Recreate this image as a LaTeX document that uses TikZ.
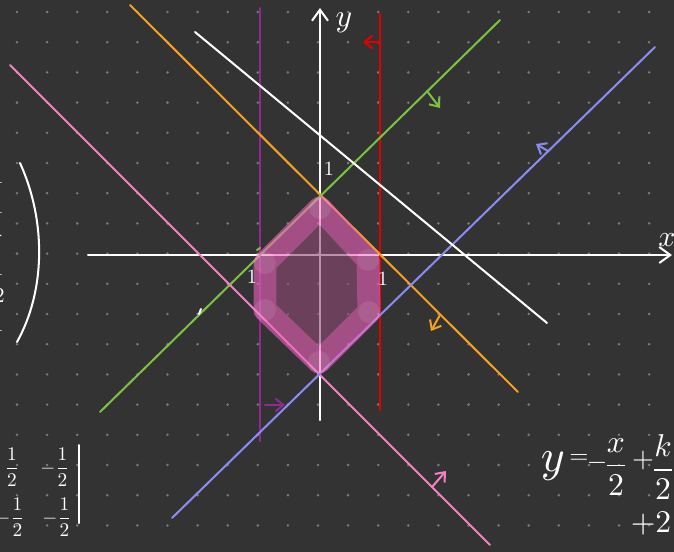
\documentclass[tikz,border=0pt]{standalone}
\usepackage{tikz}
\usetikzlibrary{arrows.meta}
\definecolor{board}{HTML}{333333}
\definecolor{gridgray}{HTML}{7A7A7A}
\definecolor{korange}{HTML}{F5A01E}
\definecolor{kgreen}{HTML}{7CC242}
\definecolor{kpink}{HTML}{F282C6}
\definecolor{kblue}{HTML}{8A8CF4}
\definecolor{kred}{HTML}{E00000}
\definecolor{kpurple}{HTML}{8E2A90}
\definecolor{hexband}{RGB}{238,98,190}
\definecolor{hexinner}{RGB}{143,73,118}
\definecolor{hexspot}{RGB}{248,125,205}
\tikzset{
  pen/.style={line width=1.15pt, line cap=round},
  axis/.style={pen, white, -{Straight Barb[length=2.2mm, width=3.2mm]}},
  hint/.style={pen, -{Straight Barb[length=1.6mm, width=2.6mm]}},
  chalk/.style={text=white, inner sep=0pt},
}

\begin{document}
\begin{tikzpicture}[x=0.02cm, y=-0.02cm]
  \fill[board] (0,0) rectangle (674,552);
  \clip (0,0) rectangle (674,552);
  % dot grid
  \foreach \i in {0,...,22}
    \foreach \j in {0,...,18}
      \fill[gridgray] (17+30.1*\i, 12+30.2*\j) circle (0.8pt);

  % axes
  \draw[axis] (88,255) -- (672,255);
  \draw[axis] (320,420) -- (320,8);

  % the six lines
  \draw[pen, kpurple] (260,8) -- (260,441);
  \draw[pen, kred] (380,14) -- (380,410);
  \draw[pen, korange] (130,5) -- (518,392);
  \draw[pen, kgreen] (100,412) -- (500,20);
  \draw[pen, kpink] (10,65) -- (490,545);
  \draw[pen, kblue] (172,518) -- (655,47);
  \draw[pen, white] (195,32) -- (547,323);

  % side arrows
  \draw[hint, kpurple] (265,405) -- (285,405);
  \draw[hint, kred] (380,42) -- (363,42);
  \draw[hint, korange] (440,315) -- (431,331);
  \draw[hint, kgreen] (427,91) -- (440,108);
  \draw[hint, kblue] (548,151) -- (536,144);
  \draw[hint, kpink] (432,487) -- (446,471);

  % little marks
  \draw[pen, white] (199,314) -- (201,309);
  \draw[pen, kgreen] (257,250) -- (260,248);

  % feasible region
  \begin{scope}[transparency group, opacity=0.6]
    \filldraw[hexband, fill=hexinner, line width=0.46cm, line join=round]
      (320,208) -- (368,260) -- (369,312) -- (319,362) -- (265,310) -- (265,263) -- cycle;
    \foreach \p in {(320,208),(368,260),(369,312),(319,362),(265,310),(265,263)}
      \fill[hexspot] \p circle (0.22cm);
  \end{scope}

  % axis labels
  \node[chalk, scale=1.8] (ylabel) at (344,23) {$y$};
  \node[chalk, scale=1.7] (xlabel) at (667,240) {$x$};
  \node[chalk, scale=1.15] (onetop) at (329,169) {1};
  \node[chalk, scale=1.15] (oneleft) at (252,277) {1};
  \node[chalk, scale=1.15] (oneright) at (383,279) {1};

  % bracket on the left
  \draw[pen, white] (20,163) .. controls (46,220) and (46,290) .. (17,342);
  \node[chalk, scale=1.2, anchor=east] (cutA) at (4,176) {1};
  \node[chalk, scale=1.2, anchor=east] (cutB) at (4,206) {1};
  \node[chalk, scale=1.2, anchor=east] (cutC) at (3,238) {-};
  \node[chalk, scale=1.2, anchor=east] (cutD) at (4,268) {1};
  \node[chalk, scale=1.2, anchor=east] (cutE) at (5,295) {2};
  \node[chalk, scale=1.2, anchor=east] (cutF) at (4,324) {1};

  % matrix bottom left
  \node[chalk, scale=1.1] (mA) at (12,467) {$\displaystyle\frac{1}{2}$};
  \node[chalk, scale=1.1] (mB) at (55,467) {$\displaystyle-\frac{1}{2}$};
  \node[chalk, scale=1.1] (mC) at (10,517) {$\displaystyle-\frac{1}{2}$};
  \node[chalk, scale=1.1] (mD) at (57,517) {$\displaystyle-\frac{1}{2}$};
  \draw[pen, white] (79,445) -- (79,523);

  % equation bottom right
  \node[chalk, scale=2.6] (eqy) at (553,466) {$y$};
  \node[chalk, scale=1.4] (eqeq) at (579,459) {$=$};
  \node[chalk, scale=1.5] (eqminus) at (597,463) {$-$};
  \node[chalk, scale=1.8] (eqx) at (616,467) {$\displaystyle\frac{x}{2}$};
  \node[chalk, scale=1.6] (eqplus) at (643,460) {$+$};
  \node[chalk, scale=1.8] (eqk) at (663,467) {$\displaystyle\frac{k}{2}$};
  \node[chalk, scale=1.8] (eqtwo) at (651,524) {$+2$};
\end{tikzpicture}
\end{document}
